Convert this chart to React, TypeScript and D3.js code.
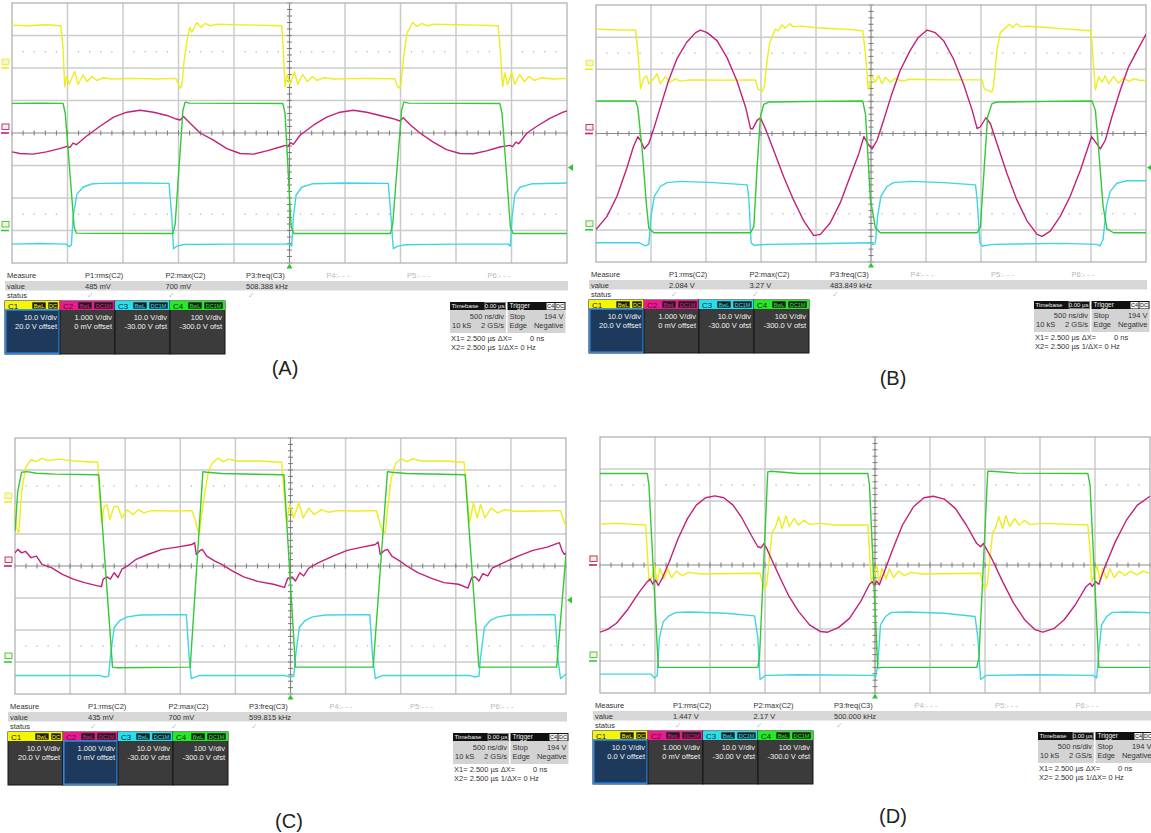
import React from 'react';
import * as d3 from 'd3';

type Pt = [number, number];

// ---------- Panel A traces (time in divisions 0..10, volts in divisions -4..4) ----------
const A_C1: Pt[] = [[0,3.32],[0.3,3.3],[0.6,3.33],[0.88,3.3],[0.92,2.6],[0.95,1.42],[0.98,1.74],[1.03,1.5],[1.13,1.89],[1.19,1.5],[1.28,1.78],[1.35,1.58],[1.44,1.74],[1.53,1.62],[1.65,1.7],[1.8,1.66],[2.2,1.68],[2.6,1.66],[2.95,1.68],[3.0,1.5],[3.03,1.38],[3.06,1.45],[3.1,2.2],[3.15,2.8],[3.2,3.25],[3.24,3.1],[3.33,3.4],[3.4,3.25],[3.48,3.37],[3.57,3.3],[3.7,3.35],[4.0,3.33],[4.4,3.32],[4.86,3.3],[4.89,2.5],[4.92,1.42],[4.96,1.8],[5.01,1.5],[5.09,1.88],[5.15,1.5],[5.24,1.8],[5.32,1.58],[5.41,1.74],[5.5,1.62],[5.62,1.7],[5.8,1.66],[6.3,1.68],[6.9,1.67],[6.94,1.45],[6.97,1.38],[7.01,1.5],[7.06,2.4],[7.12,3.1],[7.16,3.2],[7.22,3.4],[7.3,3.28],[7.38,3.37],[7.48,3.3],[7.6,3.35],[8.0,3.33],[8.4,3.32],[8.76,3.3],[8.8,2.5],[8.84,1.42],[8.88,1.85],[8.93,1.48],[9.0,1.88],[9.06,1.5],[9.15,1.8],[9.23,1.58],[9.32,1.74],[9.41,1.62],[9.55,1.7],[9.75,1.66],[10,1.68]];
const A_C2: Pt[] = [[0,-0.58],[0.14,-0.63],[0.38,-0.65],[0.62,-0.58],[0.86,-0.48],[0.99,-0.41],[1.04,-0.45],[1.1,-0.31],[1.16,-0.36],[1.34,-0.1],[1.58,0.2],[1.83,0.49],[2.07,0.64],[2.31,0.7],[2.55,0.64],[2.79,0.54],[2.94,0.44],[3.03,0.4],[3.09,0.51],[3.21,0.3],[3.39,0.0],[3.63,-0.22],[3.87,-0.48],[4.11,-0.63],[4.35,-0.65],[4.59,-0.55],[4.83,-0.43],[4.92,-0.38],[4.97,-0.42],[5.02,-0.3],[5.07,-0.35],[5.19,-0.07],[5.43,0.24],[5.67,0.49],[5.91,0.64],[6.15,0.7],[6.39,0.64],[6.63,0.54],[6.87,0.44],[6.99,0.37],[7.05,0.47],[7.17,0.26],[7.35,0.0],[7.59,-0.28],[7.83,-0.51],[8.07,-0.63],[8.31,-0.64],[8.55,-0.55],[8.79,-0.43],[8.97,-0.38],[9.02,-0.42],[9.08,-0.28],[9.13,-0.33],[9.28,0.0],[9.45,0.2],[9.69,0.45],[9.93,0.64],[10,0.68]];
const A_C3: Pt[] = [[0,-3.42],[0.5,-3.4],[0.98,-3.42],[1.03,-3.5],[1.07,-3.45],[1.1,-2.6],[1.17,-1.88],[1.28,-1.67],[1.43,-1.57],[1.58,-1.55],[2.2,-1.54],[2.83,-1.55],[2.88,-2.6],[2.91,-3.56],[2.97,-3.48],[3.1,-3.43],[4.0,-3.42],[5.0,-3.42],[5.04,-3.48],[5.07,-2.6],[5.12,-1.9],[5.22,-1.67],[5.42,-1.56],[6.0,-1.54],[6.78,-1.55],[6.83,-2.6],[6.87,-3.56],[6.95,-3.48],[7.1,-3.44],[8.0,-3.42],[8.94,-3.42],[8.98,-3.48],[9.01,-2.6],[9.06,-1.9],[9.15,-1.67],[9.38,-1.56],[10,-1.54]];
const A_C4: Pt[] = [[0,0.91],[0.5,0.92],[0.92,0.91],[0.96,0.6],[1.12,-2.9],[1.16,-3.08],[1.5,-3.09],[2.9,-3.09],[2.94,-2.8],[3.08,0.7],[3.12,0.95],[3.2,0.92],[4.0,0.91],[4.88,0.91],[4.92,0.6],[5.03,-2.9],[5.08,-3.09],[6.82,-3.09],[6.86,-2.8],[7.02,0.7],[7.06,0.95],[7.15,0.92],[8.0,0.91],[8.79,0.91],[8.83,0.6],[8.98,-2.9],[9.03,-3.09],[10,-3.09]];

// ---------- Panel B traces ----------
const B_C1: Pt[] = [[0,3.25],[0.3,3.23],[0.72,3.22],[0.76,2.58],[0.81,1.39],[0.87,1.73],[0.92,1.8],[0.96,1.55],[1.02,1.65],[1.11,1.86],[1.17,1.55],[1.26,1.77],[1.35,1.6],[1.44,1.7],[1.53,1.63],[1.72,1.67],[2.3,1.66],[2.9,1.67],[2.94,1.39],[3.02,1.32],[3.06,1.45],[3.11,2.27],[3.16,2.84],[3.2,2.99],[3.26,3.25],[3.32,3.2],[3.38,3.38],[3.44,3.28],[3.52,3.42],[3.59,3.32],[3.72,3.35],[3.96,3.3],[4.32,3.26],[4.56,3.24],[4.85,3.2],[4.9,2.47],[4.95,1.36],[5.02,1.77],[5.08,1.6],[5.14,1.8],[5.2,1.55],[5.26,1.75],[5.35,1.6],[5.44,1.72],[5.56,1.63],[5.71,1.69],[6.32,1.67],[7.02,1.67],[7.06,1.39],[7.2,1.29],[7.23,1.5],[7.29,2.58],[7.35,3.14],[7.44,3.28],[7.52,3.4],[7.58,3.3],[7.64,3.42],[7.72,3.32],[7.84,3.34],[8.2,3.3],[8.57,3.25],[9.0,3.2],[9.04,2.27],[9.08,1.36],[9.14,1.77],[9.2,1.6],[9.26,1.8],[9.32,1.55],[9.41,1.77],[9.5,1.57],[9.59,1.73],[9.69,1.62],[9.78,1.7],[9.9,1.65],[10,1.66]];
const B_C2: Pt[] = [[0,-2.99],[0.2,-2.58],[0.38,-1.96],[0.56,-1.08],[0.68,-0.41],[0.76,-0.1],[0.81,-0.21],[0.88,-0.48],[0.96,-0.31],[1.05,0.15],[1.17,0.82],[1.32,1.65],[1.47,2.32],[1.65,2.84],[1.81,3.14],[1.9,3.22],[2.02,3.14],[2.2,2.89],[2.38,2.37],[2.56,1.65],[2.72,0.82],[2.81,0.15],[2.85,0.15],[2.93,0.41],[2.99,0.49],[3.08,0.15],[3.23,-0.52],[3.41,-1.34],[3.59,-2.06],[3.78,-2.73],[3.96,-3.18],[4.08,-3.14],[4.26,-2.78],[4.44,-2.16],[4.62,-1.34],[4.78,-0.62],[4.87,-0.1],[4.94,-0.31],[5.02,-0.48],[5.11,-0.21],[5.23,0.41],[5.38,1.24],[5.53,1.96],[5.71,2.58],[5.86,2.99],[6.02,3.22],[6.17,3.14],[6.32,2.89],[6.5,2.32],[6.68,1.55],[6.84,0.72],[6.93,0.15],[6.99,0.21],[7.09,0.49],[7.17,0.31],[7.29,-0.31],[7.47,-1.24],[7.65,-2.06],[7.84,-2.73],[8.02,-3.14],[8.11,-3.2],[8.26,-3.04],[8.44,-2.58],[8.62,-1.96],[8.81,-1.13],[9.01,-0.1],[9.08,-0.26],[9.17,-0.48],[9.26,-0.21],[9.38,0.52],[9.53,1.34],[9.68,2.06],[9.84,2.58],[10,3.09]];
const B_C3: Pt[] = [[0,-3.4],[0.78,-3.4],[0.9,-3.5],[0.96,-3.45],[1.0,-2.58],[1.06,-1.96],[1.17,-1.65],[1.29,-1.53],[1.53,-1.49],[2.14,-1.53],[2.75,-1.6],[2.78,-2.06],[2.82,-3.4],[2.87,-3.48],[3.11,-3.45],[3.96,-3.43],[4.99,-3.4],[5.04,-3.46],[5.08,-3.4],[5.12,-2.58],[5.18,-1.96],[5.29,-1.65],[5.41,-1.53],[5.72,-1.49],[6.32,-1.53],[6.9,-1.6],[6.93,-2.06],[6.98,-3.4],[7.02,-3.5],[7.23,-3.45],[8.44,-3.42],[9.11,-3.45],[9.16,-3.5],[9.22,-3.3],[9.28,-2.27],[9.35,-1.8],[9.47,-1.55],[9.65,-1.47],[10,-1.47]];
const B_C4: Pt[] = [[0,1.01],[0.72,1.01],[0.76,0.82],[0.84,-0.52],[0.92,-2.27],[0.96,-2.94],[1.05,-3.09],[2.81,-3.09],[2.87,-2.89],[2.93,-1.03],[2.99,0.52],[3.05,0.91],[3.14,0.98],[4.0,1.0],[4.85,1.01],[4.9,0.6],[4.99,-2.06],[5.08,-2.94],[5.17,-3.09],[6.93,-3.09],[6.99,-2.89],[7.06,-1.03],[7.12,0.52],[7.2,0.93],[7.29,0.98],[8.2,1.0],[9.02,1.01],[9.08,0.72],[9.14,-0.52],[9.22,-2.27],[9.29,-2.97],[9.41,-3.09],[10,-3.09]];

// ---------- Panel C traces ----------
const C_C1: Pt[] = [[0,1.92],[0.03,1.19],[0.07,1.04],[0.12,2.33],[0.19,3.06],[0.29,3.32],[0.39,3.26],[0.49,3.37],[0.59,3.29],[0.79,3.34],[1.06,3.28],[1.5,3.24],[1.53,2.33],[1.57,1.35],[1.62,1.87],[1.67,1.92],[1.72,1.45],[1.8,1.87],[1.87,1.85],[1.94,1.5],[2.04,1.76],[2.14,1.61],[2.24,1.76],[2.34,1.66],[2.47,1.73],[2.9,1.72],[3.21,1.73],[3.27,1.45],[3.31,1.14],[3.35,1.04],[3.4,1.76],[3.45,2.33],[3.51,2.95],[3.58,3.21],[3.68,3.37],[3.78,3.26],[3.88,3.34],[4.02,3.28],[4.42,3.28],[4.84,3.24],[4.88,2.33],[4.93,1.35],[4.99,1.92],[5.06,1.5],[5.15,1.97],[5.23,1.5],[5.33,1.81],[5.43,1.61],[5.56,1.76],[5.7,1.68],[5.83,1.73],[6.2,1.72],[6.56,1.73],[6.61,1.4],[6.67,1.09],[6.72,1.04],[6.77,1.92],[6.83,2.75],[6.91,3.21],[7.01,3.35],[7.11,3.26],[7.21,3.35],[7.38,3.28],[7.78,3.28],[8.15,3.24],[8.2,2.33],[8.25,1.35],[8.32,1.97],[8.39,1.5],[8.45,1.92],[8.53,1.5],[8.64,1.81],[8.76,1.66],[8.89,1.76],[9.06,1.71],[9.5,1.72],[9.9,1.73],[9.95,1.45],[10,1.24]];
const C_C2: Pt[] = [[0,0.41],[0.05,0.52],[0.12,0.41],[0.19,0.46],[0.29,0.26],[0.39,0.31],[0.49,0.05],[0.66,-0.05],[0.86,-0.26],[1.06,-0.41],[1.26,-0.52],[1.5,-0.62],[1.57,-0.64],[1.6,-0.41],[1.67,-0.34],[1.73,-0.41],[1.8,-0.21],[1.87,-0.36],[1.94,-0.1],[2.04,0.0],[2.2,0.21],[2.41,0.36],[2.67,0.52],[2.94,0.59],[3.21,0.67],[3.26,0.73],[3.29,0.36],[3.35,0.47],[3.4,0.52],[3.48,0.31],[3.62,0.16],[3.75,0.05],[3.95,-0.16],[4.15,-0.34],[4.42,-0.49],[4.69,-0.57],[4.89,-0.67],[4.95,-0.38],[5.03,-0.34],[5.09,-0.47],[5.17,-0.21],[5.24,-0.31],[5.33,-0.07],[5.5,0.1],[5.77,0.31],[6.03,0.49],[6.3,0.59],[6.54,0.67],[6.59,0.75],[6.63,0.36],[6.71,0.49],[6.76,0.52],[6.84,0.31],[6.98,0.16],[7.11,0.0],[7.31,-0.21],[7.55,-0.38],[7.78,-0.52],[8.05,-0.57],[8.22,-0.69],[8.29,-0.36],[8.35,-0.34],[8.42,-0.47],[8.49,-0.24],[8.58,-0.31],[8.66,-0.07],[8.86,0.1],[9.13,0.31],[9.4,0.49],[9.66,0.59],[9.88,0.73],[9.93,0.47],[9.97,0.36],[10,0.41]];
const C_C3: Pt[] = [[0,-3.42],[1.53,-3.42],[1.63,-3.47],[1.7,-3.44],[1.73,-2.85],[1.8,-1.92],[1.9,-1.71],[2.04,-1.59],[2.27,-1.53],[3.11,-1.52],[3.16,-2.85],[3.2,-3.52],[3.35,-3.42],[4.89,-3.42],[4.99,-3.47],[5.06,-3.44],[5.09,-2.85],[5.16,-1.92],[5.26,-1.71],[5.4,-1.59],[5.63,-1.53],[6.44,-1.52],[6.49,-2.85],[6.54,-3.52],[6.67,-3.42],[8.25,-3.42],[8.35,-3.47],[8.42,-3.44],[8.45,-2.85],[8.52,-1.92],[8.62,-1.71],[8.76,-1.59],[8.99,-1.53],[9.8,-1.52],[9.85,-2.85],[9.9,-3.52],[9.97,-3.42],[10,-3.37]];
const C_C4: Pt[] = [[0,1.09],[0.05,2.33],[0.12,2.93],[0.22,2.95],[0.39,2.9],[0.73,2.87],[1.52,2.85],[1.77,-3.16],[1.87,-3.18],[3.18,-3.16],[3.41,2.95],[3.48,2.93],[3.75,2.89],[4.88,2.85],[5.09,-3.16],[6.5,-3.16],[6.76,2.95],[6.84,2.93],[7.11,2.89],[8.17,2.85],[8.42,-3.16],[9.83,-3.16],[10,0.36]];

// ---------- Panel D traces ----------
const D_C1: Pt[] = [[0,1.28],[0.3,1.3],[0.83,1.25],[0.86,0.42],[0.89,-0.52],[0.95,-0.36],[0.99,0],[1.04,-0.52],[1.09,-0.1],[1.16,-0.44],[1.23,-0.12],[1.3,-0.39],[1.39,-0.19],[1.49,-0.33],[1.62,-0.23],[1.82,-0.28],[2.91,-0.26],[2.95,-0.52],[2.99,-0.75],[3.03,-0.62],[3.08,0.21],[3.13,1.04],[3.18,1.14],[3.25,1.51],[3.31,1.14],[3.38,1.54],[3.44,1.2],[3.53,1.45],[3.61,1.25],[3.71,1.4],[3.81,1.27],[4.01,1.3],[4.27,1.25],[4.87,1.25],[4.9,0.42],[4.93,-0.52],[4.99,-0.31],[5.03,0],[5.08,-0.52],[5.13,-0.1],[5.2,-0.44],[5.26,-0.12],[5.34,-0.39],[5.43,-0.19],[5.53,-0.33],[5.66,-0.23],[5.86,-0.28],[6.92,-0.26],[6.95,-0.52],[7.0,-0.75],[7.04,-0.62],[7.09,0.21],[7.14,1.04],[7.19,1.14],[7.25,1.51],[7.32,1.14],[7.38,1.54],[7.45,1.2],[7.54,1.45],[7.62,1.25],[7.72,1.4],[7.81,1.27],[8.05,1.3],[8.87,1.25],[8.91,0.42],[8.94,-0.52],[8.99,-0.31],[9.04,0],[9.09,-0.52],[9.14,-0.1],[9.21,-0.44],[9.27,-0.12],[9.35,-0.39],[9.44,-0.19],[9.54,-0.33],[9.64,-0.2],[9.77,-0.31],[9.87,-0.19],[10,-0.26]];
const D_C2: Pt[] = [[0,-2.1],[0.13,-2.02],[0.3,-1.82],[0.5,-1.4],[0.7,-0.88],[0.86,-0.52],[0.91,-0.44],[0.96,-0.6],[1.01,-0.47],[1.06,-0.64],[1.13,-0.42],[1.26,0.1],[1.42,0.83],[1.59,1.45],[1.75,1.87],[1.92,2.1],[2.09,2.16],[2.25,2.1],[2.42,1.87],[2.58,1.47],[2.75,0.93],[2.87,0.57],[2.93,0.54],[2.98,0.67],[3.03,0.52],[3.11,0.21],[3.28,-0.42],[3.44,-0.99],[3.61,-1.45],[3.81,-1.87],[4.01,-2.08],[4.14,-2.1],[4.34,-1.95],[4.54,-1.66],[4.74,-1.14],[4.9,-0.6],[4.95,-0.52],[4.99,-0.64],[5.03,-0.5],[5.08,-0.62],[5.17,-0.21],[5.33,0.52],[5.5,1.25],[5.7,1.82],[5.89,2.1],[6.06,2.15],[6.26,2.06],[6.46,1.77],[6.66,1.25],[6.85,0.67],[6.92,0.57],[6.97,0.67],[7.02,0.52],[7.12,0.21],[7.32,-0.52],[7.52,-1.19],[7.72,-1.71],[7.91,-2.02],[8.05,-2.1],[8.25,-1.99],[8.44,-1.71],[8.64,-1.25],[8.84,-0.67],[8.91,-0.57],[8.95,-0.67],[9.01,-0.52],[9.07,-0.6],[9.17,-0.1],[9.37,0.73],[9.57,1.4],[9.77,1.87],[10,2.15]];
const D_C3: Pt[] = [[0,-3.41],[0.93,-3.41],[0.99,-3.53],[1.04,-3.45],[1.08,-2.28],[1.15,-1.77],[1.26,-1.58],[1.39,-1.48],[1.62,-1.47],[2.28,-1.51],[2.81,-1.59],[2.87,-2.28],[2.91,-3.58],[3.01,-3.45],[3.61,-3.43],[4.97,-3.45],[5.01,-3.53],[5.05,-3.12],[5.1,-1.87],[5.19,-1.61],[5.3,-1.48],[5.6,-1.47],[6.26,-1.51],[6.82,-1.61],[6.87,-2.28],[6.92,-3.58],[7.02,-3.45],[7.91,-3.43],[8.97,-3.45],[9.03,-3.53],[9.07,-2.7],[9.12,-1.87],[9.21,-1.61],[9.32,-1.48],[9.57,-1.47],[10,-1.49]];
const D_C4: Pt[] = [[0,2.86],[0.86,2.86],[0.89,2.49],[1.06,-3.2],[1.16,-3.2],[2.87,-3.2],[2.9,-2.9],[3.05,2.91],[3.11,2.93],[3.61,2.86],[4.87,2.86],[4.9,2.49],[5.05,-3.22],[5.13,-3.2],[6.85,-3.2],[6.89,-2.9],[7.05,2.93],[7.12,2.93],[7.58,2.87],[8.87,2.86],[8.91,2.49],[9.07,-3.2],[9.17,-3.2],[10,-3.2]];

// ---------- Text content ----------
const MEASURE_NAMES = ['P1:rms(C2)', 'P2:max(C2)', 'P3:freq(C3)', 'P4:- - -', 'P5:- - -', 'P6:- - -'];
const A_VALUES = ['485 mV', '700 mV', '508.388 kHz'];
const B_VALUES = ['2.084 V', '3.27 V', '483.849 kHz'];
const C_VALUES = ['435 mV', '700 mV', '599.815 kHz'];
const D_VALUES = ['1.447 V', '2.17 V', '500.000 kHz'];
const CH_NAMES = ['C1', 'C2', 'C3', 'C4'];
const CH_COUPLING = ['DC', 'DC1M', 'DC1M', 'DC1M'];
const CH_SCALE = ['10.0 V/div', '1.000 V/div', '10.0 V/div', '100 V/div'];
const CH_OFFSET_ABC = ['20.0 V offset', '0 mV offset', '-30.00 V ofst', '-300.0 V ofst'];
const CH_OFFSET_D = ['0.0 V offset', '0 mV offset', '-30.00 V ofst', '-300.0 V ofst'];
const MARKER_POS_ABC = [2, 0, -3, -3];
const MARKER_POS_D = [0, 0, -3, -3];
const TRIG_LEVEL = -1.06;

const TRACE = ['#eded1e', '#c3207a', '#3ed6e2', '#36c836'];
const HEAD = ['#f6f600', '#ec1a8e', '#22e2f0', '#22ec22'];
const FONT = '"Liberation Sans", Arial, sans-serif';

interface PanelCfg {
  id: string; left: number; right: number; top: number; bottom: number;
  traces: Pt[][]; values: string[]; offsets: string[]; markers: number[];
  selected: number; label: string; labelX: number; labelY: number;
}

const PANELS: PanelCfg[] = [
  { id: 'A', left: 12, right: 567, top: 3, bottom: 263, traces: [A_C1, A_C2, A_C3, A_C4], values: A_VALUES, offsets: CH_OFFSET_ABC, markers: MARKER_POS_ABC, selected: 0, label: '(A)', labelX: 285, labelY: 375 },
  { id: 'B', left: 596, right: 1146, top: 5, bottom: 262, traces: [B_C1, B_C2, B_C3, B_C4], values: B_VALUES, offsets: CH_OFFSET_ABC, markers: MARKER_POS_ABC, selected: 0, label: '(B)', labelX: 893, labelY: 385 },
  { id: 'C', left: 15, right: 566, top: 438, bottom: 694, traces: [C_C1, C_C2, C_C3, C_C4], values: C_VALUES, offsets: CH_OFFSET_ABC, markers: MARKER_POS_ABC, selected: 1, label: '(C)', labelX: 289, labelY: 828 },
  { id: 'D', left: 600, right: 1150, top: 437, bottom: 693, traces: [D_C1, D_C2, D_C3, D_C4], values: D_VALUES, offsets: CH_OFFSET_D, markers: MARKER_POS_D, selected: 0, label: '(D)', labelX: 893, labelY: 823 },
];

function Panel({ p }: { p: PanelCfg }) {
  const x = d3.scaleLinear().domain([0, 10]).range([p.left, p.right]);
  const y = d3.scaleLinear().domain([-4, 4]).range([p.bottom, p.top]);
  const line = d3.line<Pt>().x(d => x(d[0])).y(d => y(d[1]));
  const clipId = 'clip' + p.id;
  const cx = x(5), cy = y(0);
  const minorT = d3.range(0, 50.5, 1).map(i => i * 0.2);
  const minorV = d3.range(0, 40.5, 1).map(i => -4 + i * 0.2);
  const mY = p.bottom;
  const colX = (i: number) => p.left + 73 + i * 80.5;
  const bw = 55;
  const bx0 = p.left - 7;
  const by = mY + 38;
  const tx = p.left + 438, ty = mY + 39, tw = 56;
  const trx = tx + tw + 1.5, trw = 58;
  const fs = 7.5;

  return (
    <g>
      <defs>
        <clipPath id={clipId}>
          <rect x={p.left} y={p.top} width={p.right - p.left} height={p.bottom - p.top} />
        </clipPath>
      </defs>
      <rect x={p.left} y={p.top} width={p.right - p.left} height={p.bottom - p.top} fill="#ffffff" />
      {d3.range(1, 10).filter(i => i !== 5).map(i => (
        <line key={'gv' + i} x1={x(i)} x2={x(i)} y1={p.top} y2={p.bottom} stroke="#cbcbcb" strokeWidth={1.5} />
      ))}
      {[-3, -2, -1, 1, 2, 3].map(v => (
        <line key={'gh' + v} x1={p.left} x2={p.right} y1={y(v)} y2={y(v)} stroke="#cbcbcb" strokeWidth={1.5} />
      ))}
      {[2.5, -2.5].map(v => minorT.filter(t => Math.abs(t - Math.round(t)) > 0.01).map(t => (
        <rect key={'dot' + v + '_' + t} x={x(t) - 0.6} y={y(v) - 0.6} width={1.2} height={1.2} fill="#a8a8a8" />
      )))}
      <line x1={p.left} x2={p.right} y1={cy} y2={cy} stroke="#8a8a8a" strokeWidth={1.2} />
      <line x1={cx} x2={cx} y1={p.top} y2={p.bottom} stroke="#8a8a8a" strokeWidth={1.2} />
      {minorT.map(t => (
        <line key={'tx' + t} x1={x(t)} x2={x(t)} y1={cy - 2.5} y2={cy + 2.5} stroke="#7a7a7a" strokeWidth={1} />
      ))}
      {minorV.map(v => (
        <line key={'ty' + v} x1={cx - 2.5} x2={cx + 2.5} y1={y(v)} y2={y(v)} stroke="#7a7a7a" strokeWidth={1} />
      ))}
      <rect x={p.left} y={p.top} width={p.right - p.left} height={p.bottom - p.top} fill="none" stroke="#b2b2b2" strokeWidth={1.3} />
      <g clipPath={`url(#${clipId})`}>
        {p.traces.map((tr, i) => (
          <path key={'tr' + i} d={line(tr) || ''} fill="none" stroke={TRACE[i]} strokeWidth={1.4} strokeLinejoin="round" />
        ))}
      </g>
      {/* channel ground markers */}
      {[0, 1, 2, 3].filter(i => i !== 2).map(i => (
        <g key={'mk' + i}>
          <rect x={p.left - 10} y={y(p.markers[i]) - 9} width={7} height={5.5} fill="#f6f3d8" stroke={TRACE[i]} strokeWidth={0.9} />
          <line x1={p.left - 11} x2={p.left - 3} y1={y(p.markers[i])} y2={y(p.markers[i])} stroke={TRACE[i]} strokeWidth={1.6} />
        </g>
      ))}
      {/* trigger level & position markers */}
      <polygon points={`${p.right + 1},${y(TRIG_LEVEL)} ${p.right + 6},${y(TRIG_LEVEL) - 3.5} ${p.right + 6},${y(TRIG_LEVEL) + 3.5}`} fill="#2ec82e" />
      <polygon points={`${cx},${p.bottom + 0.5} ${cx - 3},${p.bottom + 5.5} ${cx + 3},${p.bottom + 5.5}`} fill="#2ec82e" />

      {/* measurement table */}
      <g fontFamily={FONT} fontSize={fs} fill="#333">
        <text x={p.left - 5} y={mY + 15}>Measure</text>
        {MEASURE_NAMES.map((m, i) => (
          <text key={'mn' + i} x={colX(i)} y={mY + 15} fill={i < 3 ? '#333' : '#b8b8b8'}>{m}</text>
        ))}
        <rect x={p.left - 7} y={mY + 18} width={p.right - p.left + 8} height={9.5} fill="#d7d7d7" />
        <text x={p.left - 5} y={mY + 25.5}>value</text>
        {p.values.map((v, i) => (
          <text key={'mv' + i} x={colX(i)} y={mY + 25.5}>{v}</text>
        ))}
        <text x={p.left - 5} y={mY + 35}>status</text>
        {[0, 1, 2].map(i => (
          <text key={'ck' + i} x={colX(i) + 2} y={mY + 35} fill="#c4c4c4">✓</text>
        ))}
      </g>

      {/* channel boxes */}
      {CH_NAMES.map((name, i) => {
        const bx = bx0 + i * bw;
        const sel = p.selected === i;
        const cw = CH_COUPLING[i].length > 2 ? 19 : 10;
        return (
          <g key={'cb' + i} fontFamily={FONT}>
            <rect x={bx} y={by} width={bw} height={53} fill={sel ? '#1d3a5c' : '#3b3b3b'} stroke="#151515" strokeWidth={1} />
            <rect x={bx} y={by} width={bw} height={9} fill={HEAD[i]} />
            <text x={bx + 3} y={by + 7.5} fontSize={8} fill={i === 1 ? '#5a0830' : '#222'}>{name}</text>
            <rect x={bx + bw - 2 - cw} y={by + 1} width={cw} height={7} fill="#1d1d1d" stroke={HEAD[i]} strokeWidth={0.6} />
            <text x={bx + bw - 2 - cw / 2} y={by + 6.8} fontSize={5.5} fill={HEAD[i]} textAnchor="middle">{CH_COUPLING[i]}</text>
            <rect x={bx + bw - 4 - cw - 14} y={by + 1} width={14} height={7} fill="#1d1d1d" stroke={HEAD[i]} strokeWidth={0.6} />
            <text x={bx + bw - 4 - cw - 7} y={by + 6.8} fontSize={5.5} fill={HEAD[i]} textAnchor="middle">BwL</text>
            <text x={bx + bw - 3} y={by + 19} fontSize={fs} fill="#f2f2f2" textAnchor="end">{CH_SCALE[i]}</text>
            <text x={bx + bw - 3} y={by + 27.5} fontSize={fs} fill="#f2f2f2" textAnchor="end">{p.offsets[i]}</text>
            {sel && <rect x={bx + 0.8} y={by + 9} width={bw - 1.6} height={43.2} fill="none" stroke="#2f86dc" strokeWidth={1.6} />}
          </g>
        );
      })}

      {/* timebase & trigger */}
      <g fontFamily={FONT} fontSize={fs}>
        <rect x={tx} y={ty} width={tw} height={8} fill="#111" />
        <text x={tx + 1.5} y={ty + 6.4} fontSize={6.2} fill="#f0f0f0">Timebase</text>
        <rect x={tx + tw - 21} y={ty + 0.6} width={20.4} height={6.8} fill="none" stroke="#cfcfcf" strokeWidth={0.6} />
        <text x={tx + tw - 1.5} y={ty + 6.3} fontSize={6} fill="#f0f0f0" textAnchor="end">0.00 µs</text>
        <rect x={tx} y={ty + 8} width={tw} height={23} fill="#d3d3d3" />
        <text x={tx + tw - 2} y={ty + 17} fill="#333" textAnchor="end">500 ns/div</text>
        <text x={tx + 2} y={ty + 26} fill="#333">10 kS</text>
        <text x={tx + tw - 2} y={ty + 26} fill="#333" textAnchor="end">2 GS/s</text>

        <rect x={trx} y={ty} width={trw} height={8} fill="#111" />
        <text x={trx + 2} y={ty + 6.4} fontSize={6.5} fill="#f0f0f0">Trigger</text>
        <rect x={trx + trw - 19} y={ty + 1} width={8} height={6.5} fill="#f2f2f2" />
        <text x={trx + trw - 15} y={ty + 6.3} fontSize={5.5} fill="#222" textAnchor="middle">C4</text>
        <rect x={trx + trw - 10} y={ty + 1} width={9} height={6.5} fill="#f2f2f2" />
        <text x={trx + trw - 5.5} y={ty + 6.3} fontSize={5.5} fill="#222" textAnchor="middle">DC</text>
        <rect x={trx} y={ty + 8} width={trw} height={23} fill="#d3d3d3" />
        <text x={trx + 2} y={ty + 17} fill="#333">Stop</text>
        <text x={trx + trw - 2} y={ty + 17} fill="#333" textAnchor="end">194 V</text>
        <text x={trx + 2} y={ty + 26} fill="#333">Edge</text>
        <text x={trx + trw - 2} y={ty + 26} fill="#333" textAnchor="end">Negative</text>

        <text x={tx + 1} y={ty + 39} fill="#333">X1= 2.500 µs ΔX=</text>
        <text x={tx + 80} y={ty + 39} fill="#333">0 ns</text>
        <text x={tx + 1} y={ty + 48} fill="#333">X2= 2.500 µs 1/ΔX= 0 Hz</text>
      </g>

      <text x={p.labelX} y={p.labelY} fontFamily={FONT} fontSize={20} fill="#222" textAnchor="middle">{p.label}</text>
    </g>
  );
}

export default function App() {
  return (
    <svg width={1151} height={833} viewBox="0 0 1151 833" style={{ position: 'absolute', left: 0, top: 0, background: '#ffffff' }}>
      <rect x={0} y={0} width={1151} height={833} fill="#ffffff" />
      {PANELS.map(p => <Panel key={p.id} p={p} />)}
    </svg>
  );
}
